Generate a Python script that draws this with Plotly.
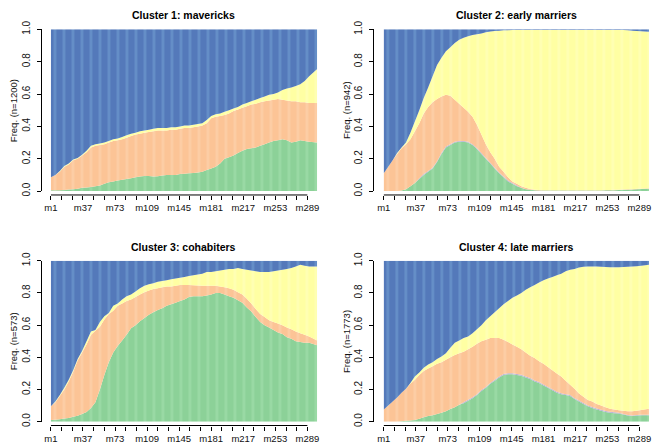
import plotly.graph_objects as go

months = [1, 6, 11, 16, 21, 26, 31, 36, 41, 46, 51, 56, 61, 66, 71, 76, 81, 86, 91, 96,
          101, 106, 111, 116, 121, 126, 131, 136, 141, 146, 151, 156, 161, 166, 171, 176,
          181, 186, 191, 196, 201, 206, 211, 216, 221, 226, 231, 236, 241, 246, 251, 256,
          261, 266, 271, 276, 281, 286, 291, 300]
tick_months = [1, 13, 25, 37, 49, 61, 73, 85, 97, 109, 121, 133, 145, 157, 169,
               181, 193, 205, 217, 229, 241, 253, 265, 277, 289]
tick_labels = ["m1", "", "", "m37", "", "", "m73", "", "", "m109", "", "", "m145", "", "",
               "m181", "", "", "m217", "", "", "m253", "", "", "m289"]
y_ticks = [0, 0.2, 0.4, 0.6, 0.8, 1.0]
y_labels = ["0.0", "0.2", "0.4", "0.6", "0.8", "1.0"]

titles = ["Cluster 1: mavericks", "Cluster 2: early marriers",
          "Cluster 3: cohabiters", "Cluster 4: late marriers"]
n_seq = [1200, 942, 573, 1773]

# cumulative shares (bottom -> top): green, +lavender, +orange, +yellow ; blue fills to 1
c1_green = [0.005,0.005,0.005,0.007,0.01,0.012,0.015,0.02,0.022,0.025,
            0.03,0.035,0.045,0.055,0.06,0.065,0.07,0.075,0.08,0.085,
            0.09,0.093,0.093,0.09,0.092,0.097,0.1,0.1,0.1,0.105,
            0.107,0.11,0.112,0.115,0.12,0.13,0.14,0.15,0.17,0.2,
            0.21,0.22,0.235,0.25,0.26,0.265,0.27,0.28,0.29,0.3,
            0.31,0.315,0.32,0.315,0.3,0.305,0.315,0.31,0.305,0.3]
c1_lav = [0.0]*60
c1_orange = [0.085,0.1,0.12,0.15,0.165,0.19,0.2,0.22,0.24,0.27,
             0.28,0.285,0.29,0.3,0.31,0.315,0.32,0.33,0.34,0.35,
             0.355,0.36,0.365,0.37,0.375,0.375,0.375,0.38,0.38,0.385,
             0.39,0.39,0.395,0.4,0.405,0.42,0.45,0.46,0.465,0.47,
             0.48,0.495,0.505,0.515,0.525,0.535,0.54,0.55,0.555,0.56,
             0.565,0.57,0.565,0.56,0.555,0.555,0.55,0.55,0.545,0.545]
c1_yellow = [0.085,0.1,0.125,0.155,0.17,0.195,0.205,0.225,0.25,0.28,
             0.29,0.295,0.3,0.31,0.32,0.325,0.335,0.345,0.355,0.36,
             0.37,0.375,0.38,0.385,0.39,0.39,0.39,0.395,0.395,0.4,
             0.405,0.405,0.41,0.415,0.42,0.44,0.465,0.475,0.48,0.49,
             0.5,0.51,0.52,0.535,0.545,0.555,0.565,0.575,0.585,0.595,
             0.6,0.61,0.625,0.635,0.64,0.65,0.66,0.68,0.71,0.755]

c2_green = [0,0,0,0,0.003,0.012,0.03,0.05,0.075,0.1,
            0.12,0.14,0.18,0.23,0.27,0.285,0.3,0.305,0.305,0.3,
            0.285,0.26,0.23,0.2,0.17,0.14,0.11,0.085,0.06,0.045,
            0.03,0.02,0.012,0.008,0.005,0.004,0.004,0.004,0.004,0.004,
            0.004,0.004,0.004,0.004,0.004,0.004,0.004,0.004,0.004,0.004,
            0.005,0.005,0.006,0.007,0.008,0.009,0.01,0.012,0.013,0.015]
c2_lav = [0,0,0,0,0,0,0,0,0.005,0.005,
          0.005,0.005,0.005,0.005,0.005,0.005,0.005,0.005,0.005,0.005,
          0.005,0.005,0.005,0.005,0.005,0.005,0.005,0.005,0.005,0.005,
          0.005,0,0,0,0,0,0,0,0,0,
          0,0,0,0,0,0,0,0,0,0,
          0,0,0,0,0,0,0,0,0,0]
c2_orange = [0.11,0.15,0.19,0.23,0.265,0.29,0.32,0.37,0.42,0.48,
             0.52,0.55,0.57,0.585,0.595,0.59,0.565,0.54,0.515,0.49,
             0.46,0.41,0.35,0.29,0.24,0.2,0.15,0.12,0.085,0.06,
             0.045,0.03,0.02,0.013,0.009,0.007,0.006,0.006,0.006,0.006,
             0.006,0.006,0.006,0.006,0.006,0.006,0.006,0.006,0.006,0.006,
             0.007,0.007,0.008,0.009,0.01,0.011,0.012,0.014,0.015,0.017]
c2_yellow = [0.11,0.15,0.19,0.235,0.27,0.3,0.36,0.43,0.5,0.575,
             0.64,0.71,0.78,0.825,0.865,0.89,0.915,0.935,0.948,0.958,
             0.965,0.97,0.975,0.982,0.987,0.99,0.992,0.994,0.995,0.996,
             0.996,0.996,0.996,0.996,0.996,0.996,0.996,0.996,0.996,0.996,
             0.996,0.996,0.996,0.996,0.996,0.996,0.996,0.996,0.996,0.996,
             0.996,0.996,0.996,0.996,0.996,0.994,0.992,0.99,0.988,0.985]

c3_green = [0.01,0.012,0.015,0.02,0.023,0.03,0.037,0.047,0.06,0.085,
            0.12,0.2,0.29,0.37,0.43,0.47,0.505,0.54,0.58,0.6,
            0.625,0.645,0.665,0.68,0.695,0.705,0.72,0.73,0.74,0.75,
            0.76,0.775,0.78,0.78,0.78,0.785,0.79,0.8,0.8,0.79,
            0.78,0.77,0.755,0.74,0.71,0.685,0.65,0.62,0.6,0.585,
            0.57,0.555,0.545,0.525,0.515,0.5,0.495,0.49,0.49,0.475]
c3_lav = [0.0]*60
c3_orange = [0.095,0.12,0.16,0.2,0.25,0.31,0.38,0.43,0.48,0.54,
             0.565,0.59,0.635,0.67,0.69,0.72,0.735,0.75,0.76,0.775,
             0.79,0.805,0.815,0.825,0.83,0.835,0.84,0.84,0.845,0.85,
             0.85,0.85,0.848,0.846,0.845,0.845,0.845,0.845,0.84,0.835,
             0.83,0.82,0.805,0.79,0.765,0.735,0.7,0.67,0.65,0.63,
             0.62,0.61,0.6,0.585,0.575,0.56,0.55,0.54,0.53,0.505]
c3_yellow = [0.095,0.125,0.165,0.21,0.26,0.32,0.39,0.44,0.5,0.56,
             0.57,0.62,0.655,0.675,0.72,0.735,0.76,0.78,0.79,0.81,
             0.83,0.845,0.855,0.86,0.87,0.875,0.88,0.885,0.89,0.895,
             0.9,0.905,0.91,0.915,0.92,0.93,0.93,0.935,0.94,0.945,
             0.95,0.95,0.955,0.95,0.945,0.94,0.935,0.93,0.93,0.93,
             0.935,0.94,0.945,0.95,0.955,0.965,0.975,0.97,0.965,0.965]

c4_green = [0,0,0,0,0.003,0.005,0.007,0.01,0.018,0.028,
            0.035,0.04,0.048,0.055,0.065,0.078,0.09,0.105,0.115,0.13,
            0.145,0.165,0.19,0.21,0.235,0.255,0.275,0.29,0.295,0.295,
            0.29,0.285,0.275,0.265,0.25,0.24,0.225,0.21,0.195,0.18,
            0.17,0.165,0.16,0.14,0.125,0.11,0.095,0.085,0.075,0.068,
            0.06,0.055,0.052,0.05,0.045,0.038,0.035,0.038,0.04,0.04]
c4_lav = [0,0,0,0,0,0,0,0,0,0,
          0,0,0,0,0,0,0,0,0.006,0.006,
          0.006,0.006,0.006,0.006,0.006,0.006,0.006,0.006,0.006,0.006,
          0.006,0.006,0.006,0.006,0.006,0.006,0.006,0.006,0.006,0.006,
          0.006,0.006,0.006,0.006,0.006,0.006,0.006,0.006,0.006,0.006,
          0.006,0.006,0.006,0.006,0.003,0.003,0.003,0.003,0.003,0.003]
c4_orange = [0.075,0.1,0.125,0.15,0.18,0.205,0.235,0.26,0.29,0.315,
             0.33,0.345,0.36,0.37,0.385,0.4,0.415,0.425,0.435,0.45,
             0.465,0.485,0.5,0.51,0.52,0.52,0.52,0.51,0.495,0.48,
             0.465,0.45,0.43,0.41,0.395,0.375,0.36,0.34,0.32,0.3,
             0.28,0.255,0.23,0.205,0.175,0.155,0.135,0.125,0.11,0.1,
             0.09,0.08,0.075,0.07,0.068,0.065,0.065,0.068,0.072,0.08]
c4_yellow = [0.075,0.1,0.125,0.15,0.18,0.205,0.24,0.28,0.305,0.335,
             0.355,0.37,0.39,0.405,0.425,0.46,0.49,0.505,0.52,0.53,
             0.55,0.575,0.6,0.63,0.655,0.68,0.705,0.73,0.75,0.77,
             0.785,0.8,0.82,0.835,0.85,0.865,0.88,0.89,0.9,0.91,
             0.92,0.935,0.945,0.95,0.958,0.963,0.965,0.965,0.965,0.963,
             0.962,0.96,0.96,0.96,0.962,0.964,0.965,0.966,0.97,0.975]

clusters = [
    (c1_green, c1_lav, c1_orange, c1_yellow),
    (c2_green, c2_lav, c2_orange, c2_yellow),
    (c3_green, c3_lav, c3_orange, c3_yellow),
    (c4_green, c4_lav, c4_orange, c4_yellow),
]

# state colours (base fill, lighter stripe)
colors = {
    "green": ("#8CD198", "#9ADAA5"),
    "lav": ("#B4AED2", "#BDB8DA"),
    "orange": ("#FCC496", "#FDCEA6"),
    "yellow": ("#FFFFA3", "#FFFFB4"),
    "blue": ("#5479BA", "#6690C8"),
}

W, H = 658, 446
panels = [  # plot area in pixels: left, right, top, bottom
    (45, 315, 21, 188),
    (382, 651, 21, 188),
    (45, 315, 260, 426),
    (382, 651, 260, 426),
]
title_y = [6, 6, 246, 246]

fig = go.Figure()
annotations = []
shapes = []
font_family = "Liberation Sans, Arial, sans-serif"

for i, (g, lv, o, y) in enumerate(clusters):
    ax = "" if i == 0 else str(i + 1)
    h_green = [max(v, 0) for v in g]
    h_lav = [max(b, 0) for b in lv]
    h_orange = [max(oo - gg - ll, 0) for oo, gg, ll in zip(o, g, lv)]
    h_yellow = [max(yy - oo, 0) for yy, oo in zip(y, o)]
    h_blue = [max(1 - yy, 0) for yy in y]
    for name, vals in [("green", h_green), ("lav", h_lav), ("orange", h_orange),
                       ("yellow", h_yellow), ("blue", h_blue)]:
        base, light = colors[name]
        fig.add_trace(go.Scatter(
            x=months, y=vals, mode="none", stackgroup="s%d" % i,
            fillcolor=base,
            fillpattern=dict(shape="|", size=9, solidity=0.3,
                             fgcolor=light, bgcolor=base, fillmode="replace"),
            xaxis="x" + ax, yaxis="y" + ax, showlegend=False, hoverinfo="skip"))

    L, R, T, B = panels[i]
    xdom = [L / W, R / W]
    ydom = [1 - B / H, 1 - T / H]
    x_line_px = B + 4
    fig.layout["xaxis" + ax] = dict(
        domain=xdom, range=[0.5, 300], anchor="free", position=1 - x_line_px / H,
        tickmode="array", tickvals=tick_months, ticktext=tick_labels,
        ticks="outside", ticklen=4, tickwidth=1, tickcolor="#000",
        showline=False, showgrid=False, zeroline=False,
        tickfont=dict(family=font_family, size=9.5, color="#111"))
    fig.layout["yaxis" + ax] = dict(
        domain=ydom, range=[0, 1], anchor="free", position=(L - 10) / W,
        tickmode="array", tickvals=y_ticks, ticktext=y_labels, tickangle=-90,
        ticks="outside", ticklen=4, tickwidth=1, tickcolor="#000",
        ticklabelstandoff=3,
        showline=True, linecolor="#000", linewidth=1,
        showgrid=False, zeroline=False,
        tickfont=dict(family=font_family, size=10, color="#111"))
    shapes.append(dict(type="line", xref="x" + ax, yref="paper",
                       x0=tick_months[0], x1=tick_months[-1],
                       y0=1 - x_line_px / H, y1=1 - x_line_px / H,
                       line=dict(color="#000", width=1)))
    annotations.append(dict(
        text="<b>%s</b>" % titles[i], xref="paper", yref="paper",
        x=(L + R) / 2 / W, y=1 - title_y[i] / H, xanchor="center", yanchor="middle",
        showarrow=False, font=dict(family=font_family, size=10.5, color="#000")))
    annotations.append(dict(
        text="Freq. (n=%d)" % n_seq[i], xref="paper", yref="paper",
        x=(L - 38) / W, y=(ydom[0] + ydom[1]) / 2, xanchor="center", yanchor="middle",
        textangle=-90, showarrow=False,
        font=dict(family=font_family, size=9.5, color="#111")))

fig.update_layout(
    width=W, height=H, margin=dict(l=0, r=0, t=0, b=0),
    paper_bgcolor="white", plot_bgcolor="white",
    annotations=annotations, shapes=shapes)

fig.write_html("out.html")
